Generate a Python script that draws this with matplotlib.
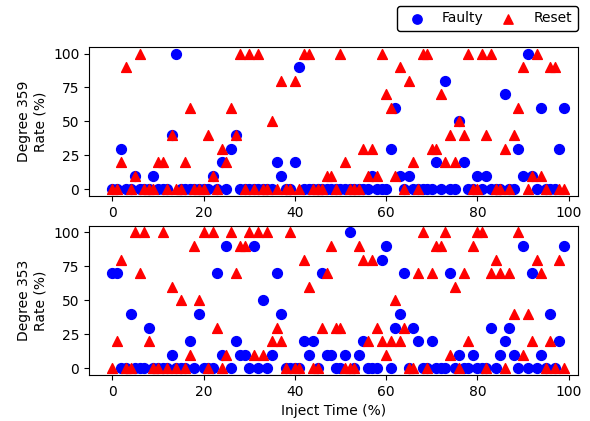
import numpy as np
import matplotlib
matplotlib.use("Agg")
import matplotlib.pyplot as plt

# Inject time steps (%)
inject_time = list(range(100))

# Non-zero rates per inject time; every other step is 0
faulty_359 = {2: 30, 5: 10, 9: 10, 13: 40, 14: 100, 22: 10, 24: 20, 26: 30, 27: 40,
              36: 20, 37: 10, 40: 20, 41: 90, 57: 10, 61: 30, 62: 60, 63: 10, 65: 10,
              71: 20, 73: 80, 76: 50, 77: 20, 80: 10, 82: 10, 86: 70, 89: 30, 90: 10,
              91: 100, 92: 10, 94: 60, 98: 30, 99: 60}
reset_359 = {2: 20, 3: 90, 5: 10, 6: 100, 10: 20, 11: 20, 13: 40, 16: 20, 17: 60,
             21: 40, 22: 10, 24: 30, 25: 20, 26: 60, 27: 40, 28: 100, 30: 100, 32: 100,
             35: 50, 37: 80, 40: 80, 42: 100, 43: 100, 47: 10, 48: 10, 50: 100, 51: 20,
             55: 30, 56: 10, 57: 30, 58: 10, 59: 100, 60: 70, 61: 60, 62: 10, 63: 90,
             65: 80, 66: 20, 68: 100, 69: 100, 70: 30, 71: 30, 72: 70, 73: 20, 74: 40,
             75: 20, 76: 50, 77: 40, 78: 100, 81: 100, 82: 40, 83: 100, 86: 30, 88: 40,
             89: 60, 90: 90, 92: 10, 93: 100, 94: 10, 96: 90, 97: 90}
faulty_353 = {0: 70, 1: 70, 4: 40, 8: 30, 13: 10, 17: 20, 19: 40, 23: 70, 24: 10,
              25: 90, 27: 20, 28: 10, 29: 10, 31: 90, 33: 50, 35: 10, 36: 70, 37: 40,
              42: 20, 43: 10, 44: 20, 46: 70, 47: 10, 48: 10, 51: 10, 52: 100, 54: 10,
              55: 20, 59: 80, 60: 90, 62: 30, 63: 40, 64: 70, 66: 30, 67: 20, 70: 20,
              74: 70, 76: 10, 79: 10, 83: 30, 85: 10, 86: 20, 87: 30, 88: 10, 90: 90,
              92: 70, 94: 10, 96: 40, 98: 20, 99: 90}
reset_353 = {1: 20, 2: 80, 5: 100, 6: 70, 7: 100, 8: 20, 11: 100, 13: 60, 15: 50,
             17: 10, 18: 90, 19: 50, 20: 100, 22: 100, 23: 30, 25: 10, 26: 100, 27: 70,
             28: 90, 29: 90, 30: 100, 31: 10, 32: 100, 33: 10, 34: 100, 35: 20, 36: 30,
             37: 20, 39: 100, 42: 80, 43: 60, 46: 30, 47: 70, 48: 90, 49: 30, 50: 30,
             54: 90, 55: 80, 56: 20, 57: 80, 58: 30, 59: 20, 60: 10, 61: 20, 62: 50,
             63: 20, 64: 30, 67: 70, 68: 100, 70: 70, 71: 90, 72: 90, 73: 100, 74: 10,
             75: 60, 77: 70, 78: 20, 79: 90, 80: 100, 81: 100, 83: 70, 84: 80, 85: 70,
             87: 70, 88: 40, 89: 100, 90: 10, 91: 40, 92: 20, 93: 80, 94: 70, 96: 20,
             98: 80}

panels = [("Degree 359\nRate (%)", faulty_359, reset_359),
          ("Degree 353\nRate (%)", faulty_353, reset_353)]


def expand(rates):
    """Turn a sparse {step: rate} dict into a full list over inject_time."""
    return [rates.get(t, 0) for t in inject_time]


fig, axes = plt.subplots(2, 1, figsize=(5.9, 4.21), dpi=100)
fig.subplots_adjust(left=0.151, right=0.98, top=0.889, bottom=0.109, hspace=0.197)

for ax, (label, faulty, reset) in zip(axes, panels):
    ax.scatter(inject_time, expand(faulty), s=50, color="blue", marker="o", label="Faulty")
    ax.scatter(inject_time, expand(reset), s=50, color="red", marker="^", label="Reset")
    ax.set_ylabel(label)
    ax.set_xlim(-5.1, 102.1)
    ax.set_ylim(-5, 105)
    ax.set_yticks([0, 25, 50, 75, 100])
    ax.set_xticks([0, 20, 40, 60, 80, 100])

axes[1].set_xlabel("Inject Time (%)")

handles, labels = axes[0].get_legend_handles_labels()
fig.legend(handles, labels, loc="upper right", bbox_to_anchor=(0.979, 0.986), ncol=2,
           borderaxespad=0, edgecolor="black", framealpha=1, markerscale=0.95,
           columnspacing=0.8)

fig.savefig("out.png")
